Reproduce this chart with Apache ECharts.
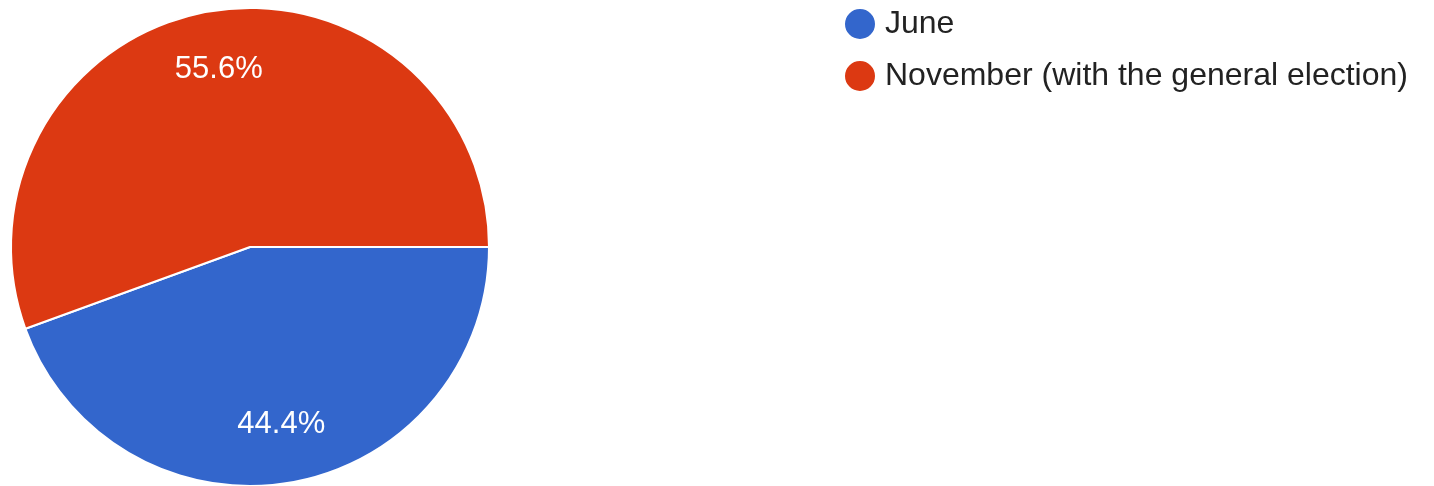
<!DOCTYPE html>
<html><head><meta charset="utf-8">
<script src="https://cdn.jsdelivr.net/npm/echarts@6/dist/echarts.min.js"></script>
<style>html,body{margin:0;padding:0;background:#fff}#c{width:1434px;height:486px}</style>
</head><body><div id="c"></div>
<script>
const categories = ['June', 'November (with the general election)'];
const values = [4, 5];
const colors = ['#3366cc', '#dc3912'];

const data = categories.map((n, i) => ({ name: n, value: values[i], itemStyle: { color: colors[i] } }));
const chart = echarts.init(document.getElementById('c'), null, { renderer: 'canvas' });
const font = '"Liberation Sans", Arial, sans-serif';
chart.setOption({
  animation: false,
  legend: {
    orient: 'vertical', left: 843, top: 7, padding: 0,
    icon: 'circle', itemWidth: 32, itemHeight: 32, itemGap: 18,
    textStyle: { fontFamily: font, fontSize: 32, color: '#222', padding: [0, 0, 0, 4] },
    data: categories.map((n, i) => ({ name: n, itemStyle: { color: colors[i] } }))
  },
  series: [
    {
      type: 'pie', center: [250, 247], radius: [0, 239], startAngle: 0, clockwise: true,
      label: { show: false }, labelLine: { show: false }, silent: true,
      itemStyle: { borderColor: '#fff', borderWidth: 2 },
      data: data
    },
    {
      type: 'pie', center: [250, 247], radius: [115, 239], startAngle: 0, clockwise: true,
      silent: true, labelLine: { show: false },
      itemStyle: { color: 'rgba(0,0,0,0)', borderWidth: 0 },
      label: {
        show: true, position: 'inside', color: '#fff', fontFamily: font, fontSize: 31,
        formatter: p => p.percent.toFixed(1) + '%'
      },
      data: categories.map((n, i) => ({ name: n, value: values[i], itemStyle: { color: 'rgba(0,0,0,0)' } }))
    }
  ]
});
</script></body></html>
